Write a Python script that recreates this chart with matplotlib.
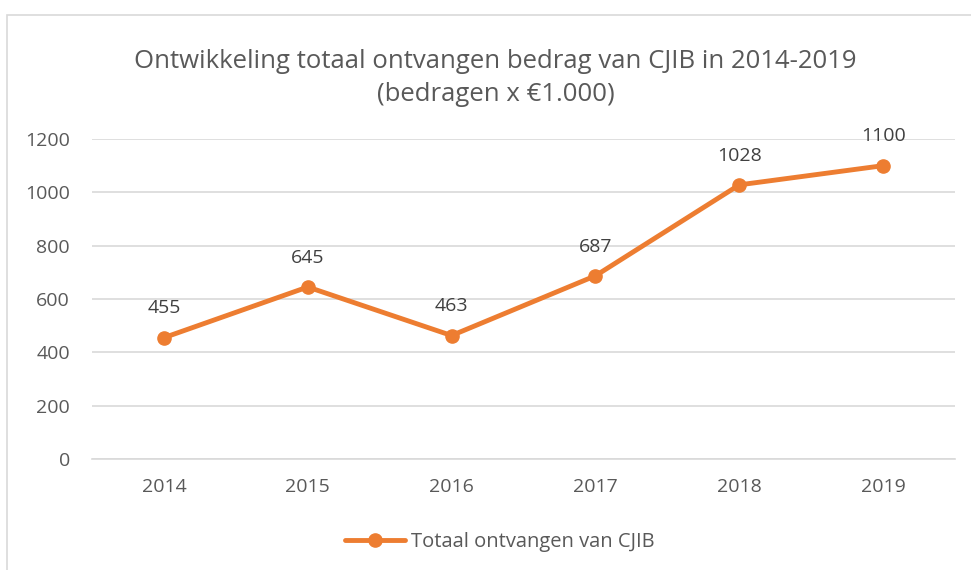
import matplotlib.pyplot as plt
from matplotlib.patches import Rectangle

years = ['2014', '2015', '2016', '2017', '2018', '2019']
bedrag = [455, 645, 463, 687, 1028, 1100]
y_ticks = [0, 200, 400, 600, 800, 1000, 1200]

orange = '#ED7D31'
grey_text = '#595959'

plt.rcParams['font.family'] = ['Open Sans', 'DejaVu Sans']

fig = plt.figure(figsize=(9.71, 5.70), dpi=100)
ax = fig.add_axes([92 / 971, 1 - 459 / 570, (955 - 92) / 971, (459 - 139) / 570])

# outer frame of the chart box
fig.patches.append(Rectangle((7 / 971, -0.1), 1.1, 1 - 15 / 570 + 0.1,
                             transform=fig.transFigure, fill=False,
                             edgecolor='#D9D9D9', linewidth=1.2))

x = range(len(years))
ax.plot(x, bedrag, color=orange, linewidth=3.5, marker='o', markersize=9.5,
        label='Totaal ontvangen van CJIB', solid_capstyle='round')

for xi, v in zip(x, bedrag):
    ax.annotate(str(v), (xi, v), xytext=(0, 21), textcoords='offset points',
                ha='center', va='center', fontsize=14, color='#404040')

ax.set_xlim(-0.5, len(years) - 0.5)
ax.set_ylim(0, 1200)
ax.set_xticks(list(x))
ax.set_xticklabels(years)
ax.set_yticks(y_ticks)
ax.yaxis.grid(True, color='#D9D9D9', linewidth=1.2)
ax.set_axisbelow(True)
for s in ['top', 'right', 'left']:
    ax.spines[s].set_visible(False)
ax.spines['bottom'].set_color('#D9D9D9')
ax.spines['bottom'].set_linewidth(1.2)
ax.tick_params(axis='both', length=0, labelsize=14, colors=grey_text)
ax.tick_params(axis='x', pad=14)
ax.tick_params(axis='y', pad=16)

fig.text(0.5105, 1 - 61 / 570, 'Ontwikkeling totaal ontvangen bedrag van CJIB in 2014-2019',
         ha='center', va='center', fontsize=18.5, color=grey_text)
fig.text(0.5105, 1 - 94 / 570, '(bedragen x €1.000)',
         ha='center', va='center', fontsize=18.5, color=grey_text)

fig.legend(loc='center', bbox_to_anchor=(0.515, 1 - 542 / 570), frameon=False,
           fontsize=14.5, labelcolor=grey_text, handlelength=3.0, handletextpad=0.3)

fig.savefig('out.png', dpi=100)
